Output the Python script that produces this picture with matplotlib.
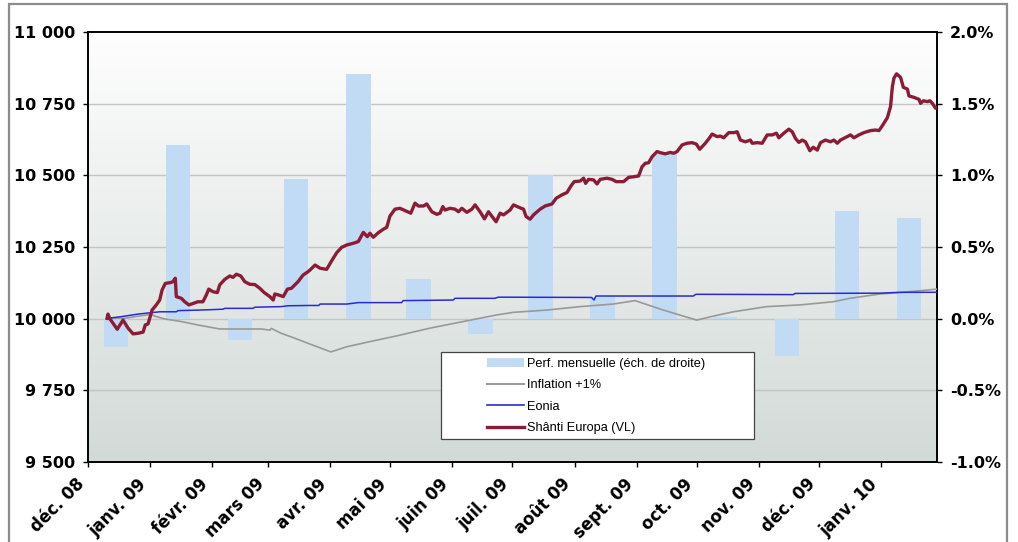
import matplotlib
matplotlib.use("Agg")
import matplotlib.pyplot as plt
import matplotlib.dates as mdates
from matplotlib.patches import Rectangle, Patch
from matplotlib.lines import Line2D
from datetime import datetime
import numpy as np

# day offsets counted from 1 Dec 2008
vl_days = [9.5, 10, 10.8, 14.6, 17.5, 20, 22.5, 25, 27.5, 28.6, 30, 32, 34.1, 35.8, 37, 38.6, 41.3, 42.4, 43.6, 44.1,
           46.6, 48.3, 50.4, 52.9, 54.9, 57.4, 59.1, 60.3, 62.4, 64.6, 65.8, 68.3, 70.8, 72.4, 74.1, 76.3, 78.3, 80.8,
           83.3, 85.8, 88, 90.8, 92.5, 93.3, 95, 97.5, 99.6, 101.6, 104.9, 107.4, 109.9, 110.9, 113.4, 115.9, 119.2,
           121.7, 124.2, 126.7, 129.2, 132.5, 135, 137.5, 139.5, 140.8, 142.5, 145, 147.5, 149.2, 150.8, 153.3, 155.8,
           158.3, 161.2, 163.3, 165, 167.5, 169.2, 171.7, 174.2, 175.8, 177.2, 178.3, 180.8, 183.3, 185, 186.7, 189.2,
           191.7, 193.3, 195.8, 198, 200, 202.5, 203.8, 205.8, 207.5, 210.8, 212.5, 215, 217.5, 218.8, 220.8, 222.5,
           225.8, 228.3, 231.7, 233.8, 236.7, 239.2, 241.2, 242.8, 245.8, 247.5, 248.5, 250, 252.5, 254.2, 255.8, 259.2,
           261.7, 263.8, 267.5, 270, 272.5, 275, 276.7, 278.3, 280, 281.7, 284.2, 285.8, 288.3, 290.8, 292.5, 294.2,
           296.7, 299.2, 301.7, 303.8, 305.5, 308.3, 310, 311.7, 314.2, 315.8, 317.5, 320, 322.5, 324.2, 325.8, 328.3,
           330.8, 331.7, 334.2, 336.7, 339.2, 341.7, 343.8, 345, 347.5, 350, 351.7, 353.3, 355, 356.7, 358.3, 360.5,
           362.2, 364.2, 365.8, 368.3, 370.8, 372.5, 374.2, 375.8, 379.2, 380.8, 382.5, 385, 387.5, 390.8, 393.3, 395,
           396.7, 399.2, 400.8, 401.7, 402.5, 403.8, 405.8, 407.2, 409.2, 410, 412.5, 415, 415.8, 417.2, 419.2, 420.5,
           421.7, 423.3, 424.5]
vl_values = [10001, 10016, 10001, 9963, 9995, 9967, 9947, 9949, 9953, 9978, 9982, 10030, 10048, 10065, 10100, 10123,
             10126, 10129, 10141, 10077, 10071, 10059, 10048, 10054, 10059, 10059, 10083, 10103, 10094, 10091, 10118,
             10137, 10149, 10144, 10155, 10149, 10129, 10120, 10119, 10106, 10091, 10077, 10065, 10086, 10083, 10077,
             10103, 10106, 10129, 10152, 10164, 10170, 10187, 10176, 10172, 10202, 10230, 10249, 10257, 10263, 10269,
             10301, 10286, 10298, 10284, 10300, 10312, 10319, 10358, 10382, 10385, 10377, 10368, 10403, 10393, 10393,
             10400, 10373, 10364, 10368, 10391, 10379, 10385, 10382, 10373, 10385, 10371, 10382, 10397, 10373, 10348,
             10373, 10350, 10338, 10368, 10362, 10379, 10397, 10389, 10382, 10356, 10347, 10362, 10382, 10393, 10400,
             10420, 10432, 10440, 10463, 10478, 10480, 10490, 10472, 10486, 10484, 10470, 10486, 10490, 10486, 10478,
             10478, 10493, 10495, 10498, 10530, 10542, 10544, 10565, 10583, 10579, 10575, 10580, 10577, 10583, 10606,
             10612, 10614, 10609, 10591, 10612, 10627, 10644, 10635, 10637, 10631, 10649, 10649, 10652, 10623, 10617,
             10623, 10612, 10614, 10612, 10641, 10641, 10647, 10631, 10647, 10661, 10652, 10629, 10615, 10623, 10617,
             10586, 10598, 10588, 10614, 10623, 10617, 10623, 10612, 10623, 10635, 10641, 10631, 10641, 10649, 10656,
             10658, 10656, 10673, 10701, 10740, 10809, 10839, 10854, 10842, 10807, 10801, 10777, 10772, 10765, 10751,
             10760, 10757, 10760, 10751, 10734, 10737]

eonia_days = [9.5, 16.6, 25, 31.6, 35.8, 44.1, 44.9, 55.8, 67.4, 68.3, 82.4, 83.3, 96.5, 99.9, 109.9, 115.2, 115.9,
              129.2, 135, 156.6, 157.4, 182.4, 183.3, 203.2, 204.9, 251.5, 252.7, 253.7, 302.3, 303.6, 352.2, 353.1,
              395.5, 405.5, 424.5]
eonia_values = [10001, 10007, 10016, 10021, 10024, 10024, 10028, 10030, 10033, 10036, 10036, 10040, 10042, 10045,
                10046, 10046, 10051, 10051, 10056, 10056, 10063, 10065, 10071, 10071, 10075, 10074, 10065, 10079,
                10079, 10085, 10084, 10088, 10089, 10092, 10092]

infl_days = [9.5, 18.3, 23.3, 31.6, 33.3, 38.3, 46.6, 54.9, 65.8, 86.6, 90.8, 91.6, 96.5, 103.2, 109.9, 121.3, 129.2,
             140.8, 154.2, 170.8, 187.4, 204.1, 212.4, 229.1, 245.7, 262.3, 273.2, 287.3, 304, 312.3, 322.3, 338.9,
             355.6, 372.2, 380.5, 395.5, 405.5, 423.8]
infl_values = [10001, 10001, 10007, 10015, 10009, 9999, 9990, 9978, 9964, 9964, 9960, 9966, 9949, 9932, 9914, 9884,
               9902, 9920, 9940, 9967, 9990, 10013, 10022, 10030, 10042, 10051, 10063, 10030, 9995, 10009, 10024,
               10042, 10048, 10059, 10071, 10086, 10091, 10103]

# monthly performance (%), Dec 2008 -> Jan 2010
perf_months = [(2008, 12), (2009, 1), (2009, 2), (2009, 3), (2009, 4), (2009, 5), (2009, 6), (2009, 7),
               (2009, 8), (2009, 9), (2009, 10), (2009, 11), (2009, 12), (2010, 1)]
perf_values = [-0.20, 1.21, -0.15, 0.975, 1.71, 0.28, -0.105, 1.00, 0.15, 1.15, 0.01, -0.26, 0.75, 0.70]

month_labels = ["déc. 08", "janv. 09", "févr. 09", "mars 09", "avr. 09", "mai 09", "juin 09", "juil. 09",
                "août 09", "sept. 09", "oct. 09", "nov. 09", "déc. 09", "janv. 10"]

start = mdates.date2num(datetime(2008, 12, 1))

W, H = 1018, 542
fig = plt.figure(figsize=(W / 100, H / 100), dpi=100)
fig.patch.set_facecolor("white")
fig.patches.append(Rectangle((9 / W, -0.05), 998 / W, 1.05 - 4 / H, transform=fig.transFigure,
                             fill=False, edgecolor="#8c8c8c", linewidth=1.6))

pos = [88 / W, 1 - 462 / H, 849 / W, 430 / H]
ax2 = fig.add_axes(pos)  # bars, right scale
ax = ax2.twinx()          # lines, left scale
ax.yaxis.tick_left()
ax2.yaxis.tick_right()
ax.yaxis.set_label_position("left")

# background gradient
top = np.array([254, 254, 254]) / 255.0
bot = np.array([210, 218, 215]) / 255.0
t = np.linspace(0, 1, 256)[:, None]
grad = (top * (1 - t) + bot * t)[:, None, :]
ax2.imshow(grad, extent=[0, 1, 0, 1], transform=ax2.transAxes, aspect="auto", zorder=0)

bar_x = [mdates.date2num(datetime(y, m, 15)) for y, m in perf_months]
ax2.bar(bar_x, perf_values, width=12.2, color="#c2dbf4", zorder=2)
ax2.set_ylim(-1, 2)
ax2.set_yticks(np.arange(-1, 2.01, 0.5))
ax2.set_yticklabels(["%.1f%%" % v for v in np.arange(-1, 2.01, 0.5)])
for v in np.arange(-0.5, 1.51, 0.5):
    ax2.axhline(v, color="#c4c4c4", lw=1.0, zorder=1)

ax.plot(start + np.array(infl_days), infl_values, color="#999999", lw=1.2, zorder=3)
ax.plot(start + np.array(eonia_days), eonia_values, color="#2a2ad0", lw=1.1, zorder=4)
ax.plot(start + np.array(vl_days), vl_values, color="#8b1c35", lw=2.4, zorder=5)
ax.set_ylim(9500, 11000)
ax.set_yticks([9500, 9750, 10000, 10250, 10500, 10750, 11000])
ax.set_yticklabels(["{:,}".format(v).replace(",", " ") for v in [9500, 9750, 10000, 10250, 10500, 10750, 11000]])

month_ticks = [mdates.date2num(datetime(2008 + (11 + i) // 12, (11 + i) % 12 + 1, 1)) for i in range(14)]
ax2.set_xlim(start, start + 424)
ax2.set_xticks(month_ticks)
ax2.set_xticklabels(month_labels, rotation=45, ha="right", va="top")

for a in (ax, ax2):
    for s in a.spines.values():
        s.set_color("black")
        s.set_linewidth(1.2)
    a.tick_params(length=3.5, width=1.0, pad=6, labelsize=11.5)
    for lab in a.get_xticklabels() + a.get_yticklabels():
        lab.set_fontweight("bold")
ax2.tick_params(axis="x", pad=6, labelsize=12)

# legend with a manually drawn frame
fig.patches.append(Rectangle((441 / W, 1 - 439 / H), 313 / W, 87 / H, transform=fig.transFigure,
                             facecolor="white", edgecolor="#444444", linewidth=0.9, zorder=10))
handles = [Patch(facecolor="#c2dbf4", edgecolor="none"),
           Line2D([], [], color="#999999", lw=1.4),
           Line2D([], [], color="#2a2ad0", lw=1.2),
           Line2D([], [], color="#8b1c35", lw=2.4)]
labels = ["Perf. mensuelle (éch. de droite)", "Inflation +1%", "Eonia", "Shânti Europa (VL)"]
leg = fig.legend(handles, labels, loc="center left", bbox_to_anchor=(487 / W, 1 - 396 / H),
                 frameon=False, prop={"family": "Liberation Sans", "size": 9.2},
                 handlelength=2.9, handleheight=0.8, handletextpad=0.25, labelspacing=0.72, borderpad=0,
                 borderaxespad=0)
leg.set_zorder(11)

fig.savefig("out.png", dpi=100)
